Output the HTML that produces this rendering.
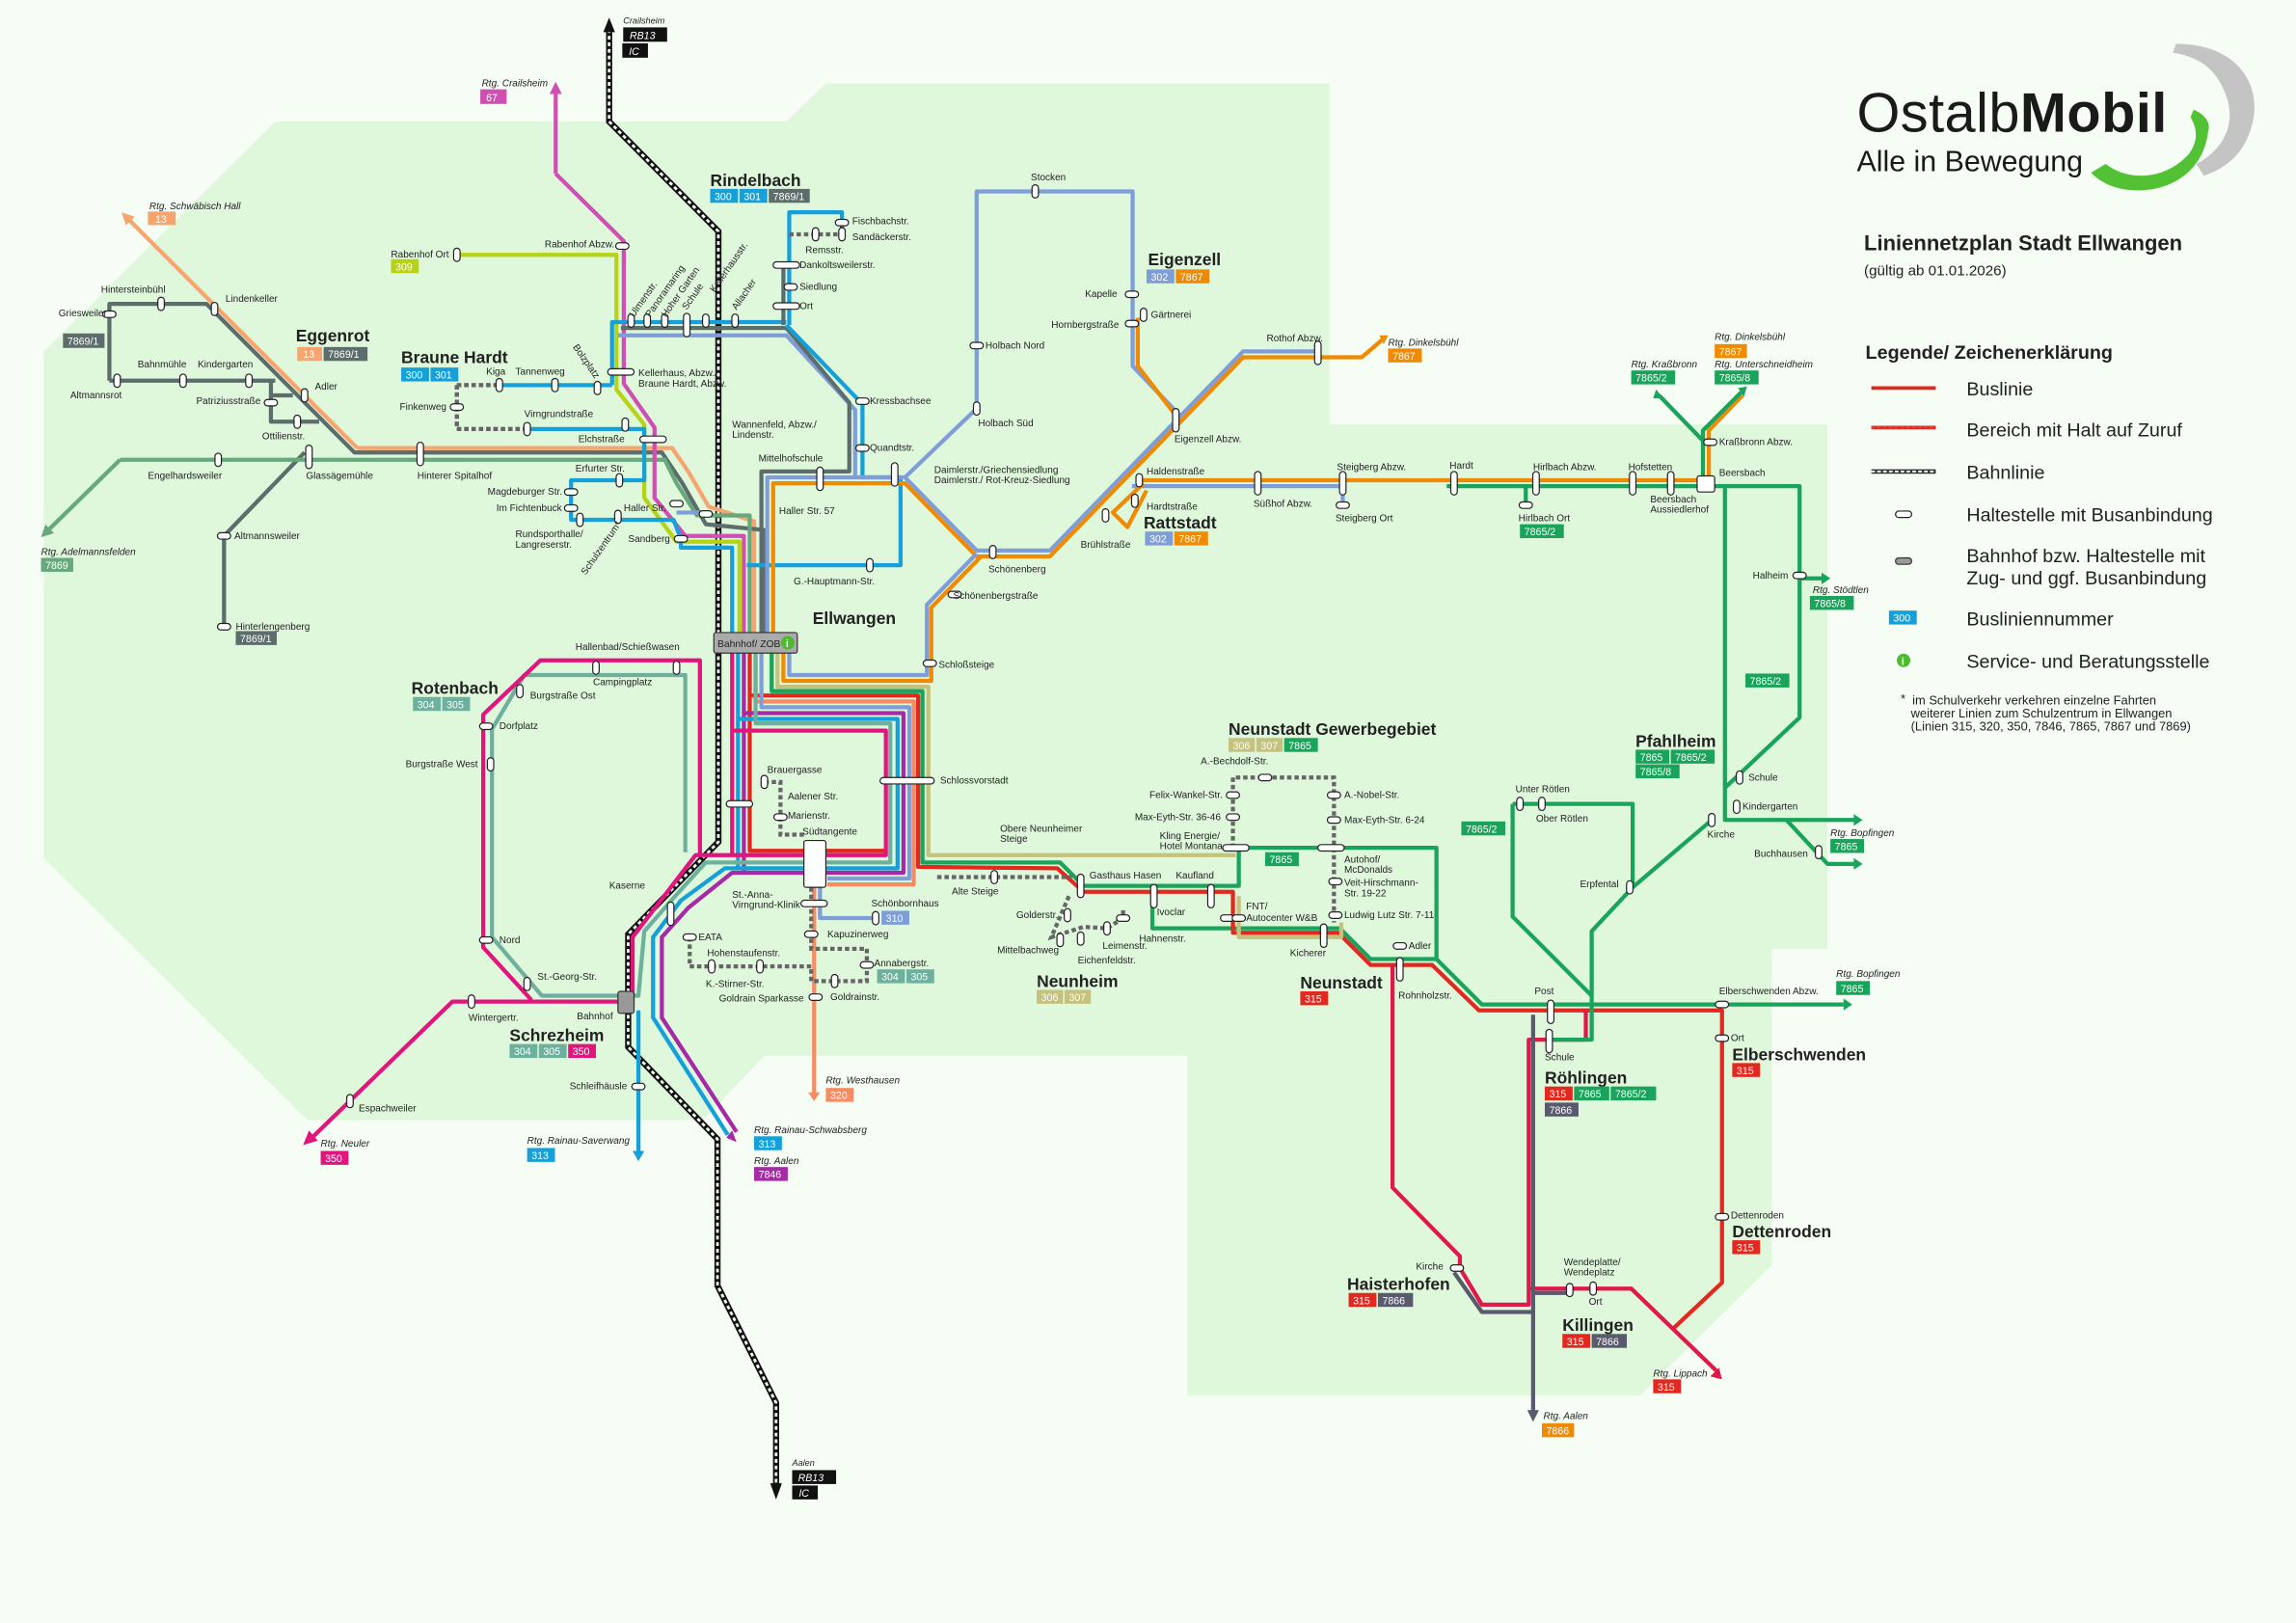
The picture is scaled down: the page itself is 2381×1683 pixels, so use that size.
<!DOCTYPE html>
<html><head><meta charset="utf-8"><style>
html,body{margin:0;padding:0;background:#f5fdf4;}
svg{display:block}
text{font-family:"Liberation Sans",sans-serif;fill:#222}
.s{font-size:6.6px}
.i{font-size:6.6px;font-style:italic}
.t{font-size:11.5px;font-weight:bold}
.b{font-size:7px;fill:#fff}
.l{fill:none;stroke-width:2.8;stroke-linejoin:round;stroke-linecap:butt}
.d{fill:none;stroke:#666;stroke-width:2.8;stroke-dasharray:3 2}
.st{fill:#fff;stroke:#222;stroke-width:0.8}
.lg{font-size:13px}
</style></head><body>
<svg width="2381" height="1683" viewBox="0 0 1568 1108.4" preserveAspectRatio="none" xmlns="http://www.w3.org/2000/svg">
<defs>
<marker id="ar" viewBox="0 0 10 10" refX="5" refY="5" markerWidth="3" markerHeight="3" orient="auto-start-reverse"><path d="M0,0 L10,5 L0,10 z" fill="context-stroke"/></marker>
<rect id="h" x="-4.5" y="-2.2" width="9" height="4.4" rx="2.2" class="st"/>
<rect id="v" x="-2.2" y="-4.5" width="4.4" height="9" rx="2.2" class="st"/>
<rect id="hl" x="-9" y="-2.2" width="18" height="4.4" rx="2.2" class="st"/>
<rect id="vl" x="-2.2" y="-8" width="4.4" height="16" rx="2.2" class="st"/>
</defs>
<rect width="1568" height="1109" fill="#f5fdf4"/>
<path d="M188,83 L537,83 L564,57 L908,57 L908,290 L1248,290 L1248,648 L1210,648 L1210,864 L1120,953 L811,953 L811,721 L522,721 L480,765 L210,765 L30,586 L30,240 Z" fill="#dff8dc"/>

<g fill="none">
<path d="M416,20 L416,83 L490.6,158 L490.6,575 L429,638 L429,715 L490,778 L490,878 L530,958 L530,1015" stroke="#111" stroke-width="4.2"/>
<path d="M416,20 L416,83 L490.6,158 L490.6,575 L429,638 L429,715 L490,778 L490,878 L530,958 L530,1015" stroke="#fff" stroke-width="1.8" stroke-dasharray="2.5 2"/>
<path d="M412,22 L416,12 L420,22 Z" fill="#111"/>
<path d="M526,1013 L530,1024 L534,1013 Z" fill="#111"/>
</g>
<rect x="425.6" y="18.7" width="30" height="9.8" fill="#111"/><text x="430" y="26.6" class="b" style="font-style:italic">RB13</text>
<rect x="425" y="29.6" width="17.5" height="9.8" fill="#111"/><text x="429.5" y="37.5" class="b" style="font-style:italic">IC</text>
<text x="425.6" y="16" class="i" style="font-size:6px">Crailsheim</text>
<rect x="541" y="1004" width="30" height="9.5" fill="#111"/><text x="545" y="1011.6" class="b" style="font-style:italic">RB13</text>
<rect x="541" y="1014.5" width="17.5" height="9.5" fill="#111"/><text x="545.5" y="1022" class="b" style="font-style:italic">IC</text>
<text x="541" y="1001" class="i" style="font-size:6px">Aalen</text>

<path class="l" stroke="#f7a56e" d="M244,306 L459,306 L470,322 L484,346 L515,356 L515,432" />
<path class="l" stroke="#f7a56e" d="M244,306 L86,148" marker-end="url(#ar)"/>
<path class="l" stroke="#5c6d6b" d="M74.7,260 L74.7,207.5 L141,207.5 L242,309 L452,309 L466,330 L482,358 L522,362 L522,432"/>
<path class="l" stroke="#5c6d6b" d="M74.7,260 L188,260 M185,260 L185,288 L218,288 M185,270 L200,270 M208,309 L153,366 L153,428"/>
<path class="l" stroke="#67a97c" d="M82,314 L454,314 L462,330 L476,352 L512,352 L512,432"/>
<path class="l" stroke="#67a97c" d="M82,314 L31,364" marker-end="url(#ar)"/>
<path class="l" stroke="#b8d315" d="M312,174 L421,174 L421,266 L440,290 L440,340 L462,370 L505,370 L505,432"/>
<path class="l" stroke="#cf4fb2" d="M379.5,118.6 L426,164.7 L426,262 L447,292 L447,340 L468,366 L508,366 L508,432"/>
<path class="l" stroke="#cf4fb2" d="M379.5,118.6 L379.5,60" marker-end="url(#ar)"/>
<path class="l" stroke="#16a0d9" d="M418,263 L418,220 L537,220"/>
<path class="l" stroke="#16a0d9" d="M360,293 L440,293 L440,328 L390,328 L390,355 L460,355 L465,368 L465,374 L500,374 L500,432"/>
<path class="l" stroke="#16a0d9" d="M340,263 L418,263"/>
<path class="d" stroke="#16a0d9" d="M312,263 L340,263 M312,263 L312,293 L360,293"/>
<path class="d" d="M312,263 L340,263 M312,263 L312,293 L360,293" stroke-dasharray="2 2" stroke-width="1.5"/>
<path class="l" stroke="#7f9ed8" d="M422,229 L537,229 L584,280 L584,327 M462,350 L482,350"/>
<path class="l" stroke="#5c6d6b" d="M424,224 L537,224 L580,275 L580,322 L520,322 L520,432"/>
<path class="l" stroke="#16a0d9" d="M539,222 L539,145 L575,145 L575,152 M537,222 L589,276 L589,326 L615,326 L615,386 L510,386"/>
<path class="d" d="M539,160 L575,160 L575,150" stroke-width="1.6"/>
<path class="l" stroke="#5c6d6b" d="M535,182 L535,222"/>
<path class="l" stroke="#7f9ed8" d="M524,432 L524,326 L618,326 L667,376 L717,376 L849,240 L900,240 M618,326 L667,279 L667,130.7 L773.5,130.7 L773.5,250 L807,285 M773,332 L917,332 M917,332 L917,345"/>
<path class="l" stroke="#f08a00" d="M528,432 L528,330 L618,330 L667,380 L717,380 L849,244 L930,244 L944,232"/>
<path class="l" stroke="#f08a00" d="M777,217 L777,250 L807,289 M778,328 L1163,328 L1167,328 L1167,294 L1190,270"/>
<path class="l" stroke="#f08a00" d="M781,330 L760,350 L770,360 L783,335"/>
<path class="l" stroke="#7f9ed8" d="M667,378 L633,413 L633,461 L539,461 L539,446"/>
<path class="l" stroke="#f08a00" d="M670,380 L636,415 L636,465 L535,465 L535,446"/>

<path class="l" stroke="#c4c27c" d="M531,446 L531,469 L634,469 L634,584 L844,584"/>
<path class="l" stroke="#1aa35a" d="M527,446 L527,472 L630,472 L630,589 L724,589 L740,605 L846,605 L846,579 L981,579 L981,655 M787,605 L787,634 L915,634 L936,655 L981,655 L1012,686 L1259,686"/>
<path class="l" stroke="#e2291f" d="M512,446 L512,475 L627,475 L627,592 L722,593 L740,609 L842,609 L842,637 L914,637 L936,659 L978,659 L1010,690 L1176,690 L1176,876 L1142,908"/>
<path class="l" stroke="#e2291f" d="M512,475 L512,581 L605,581"/>
<path class="l" stroke="#f68c63" d="M516,446 L516,479 L624,479 L624,604 L565,604 M556,604 L556,748" />
<path class="l" stroke="#7f9ed8" d="M520,446 L520,483 L621,483 L621,600 L565,600 M560,606 L560,627 L598,627"/>
<path class="l" stroke="#a62aa6" d="M508,446 L508,487 L617,487 L617,596 L500,596 L470,620 L452,640 L452,695 L503,773 M508,487 L508,596"/>
<path class="l" stroke="#16a0d9" d="M504,446 L504,491 L613,491 L613,593 L495,593 L465,615 L446,640 L446,695 L497,775 M436,690 L436,790 M504,491 L504,593"/>
<path class="l" stroke="#6db09d" d="M516,446 L516,494 L608,494 L608,589 L482,589 L462,611 L440,636 L436,680 L370,680 L336,640 L336,498 L358,461 L468,461 L468,582"/>
<path class="l" stroke="#e2157f" d="M500,446 L500,499 L605,499 L605,584 L478,584 L475,584 L432,640 L432,684 L309,684 L212,778 M478,584 L478,451 L369,451 L330,488 L330,647 L363,683 M500,499 L500,584"/>
<path d="M207,782 L211,772 L217,779 Z" fill="#e2157f"/>
<path d="M432,786 L436,793 L440,786 Z" fill="#16a0d9"/>
<path d="M496,777 L503,780 L500,772 Z" fill="#a62aa6"/>
<path d="M552,746 L556,752 L560,746 Z" fill="#f68c63"/>
<path class="d" d="M471,640 L471,660 L554,660 L554,670 L592,670 L592,648 L554,648 L554,606" stroke="#6db09d" stroke-width="2.6"/>
<path class="d" d="M522,534 L533,534 L533,570 L549,570" stroke="#7f9ed8"/>
<path class="d" d="M842,579 L842,531 L911,531 L911,579" stroke-width="2.4"/>
<path class="d" d="M911,579 L911,630" stroke="#c4c27c" stroke-width="2.4"/>
<path class="d" d="M640,599 L732,599 M730,612 L718,640 L740,633 L756,634 L767,627 L767,620" stroke-width="2.4"/>
<path class="l" stroke="#c4c27c" d="M846,612 L846,640 L916,640 L916,630"/>
<path class="l" stroke="#e0194d" d="M951,659 L951,811 L997,858 L997,866 L1012,891 L1044,891 L1044,710 L1083,710 L1083,690 M1044,880 L1114,880 L1172,936"/>
<path d="M1168,940 L1176,942 L1174,934 Z" fill="#e0194d"/>
<path class="l" stroke="#5a5a6e" d="M993,869 L1012,896 L1047,896 M1047,693 L1047,965 M1047,883 L1072,883"/>
<path d="M1043,963 L1047,971 L1051,963 Z" fill="#5a5a6e"/>
<path class="l" stroke="#1aa35a" d="M988,332 L1163,332 L1163,294 L1189,268 M1163,301 L1133,270 M1171,332 L1229,332 L1229,395 L1244,395 M1229,395 L1229,490 L1178,538 M1178,332 L1178,560 L1268,560 M1220,560 L1248,590 L1268,590 M1169,560 L1115,606 L1087,636 L1087,710 L1058,710 M1033,549 L1115,549 L1115,606 M1033,549 L1033,626 L1087,680 M1042,332 L1042,345"/>
<path d="M1187,265 L1193,264 L1191,271 Z M1131,266 L1129,272 L1136,272 Z" fill="#1aa35a"/>
<path d="M1244,391 L1250,395 L1244,399 Z M1266,556 L1272,560 L1266,564 Z M1266,586 L1272,590 L1266,594 Z M1259,682 L1265,686 L1259,690 Z" fill="#1aa35a"/>
<path d="M942,229 L948,229 L945,235 Z" fill="#f08a00"/>

<rect x="487.5" y="432" width="57" height="14" rx="1.5" fill="#aaa" stroke="#333" stroke-width="0.8"/>
<text x="490" y="442" class="s" style="font-size:6.8px">Bahnhof/ ZOB</text>
<circle cx="538" cy="439" r="4.6" fill="#4cbb2f"/><text x="536.6" y="442" style="font-size:7px;fill:#fff;font-weight:bold">i</text>
<rect x="549" y="574" width="15" height="32" rx="1.5" class="st"/>
<rect x="422" y="677" width="11" height="15" rx="1.5" fill="#999" stroke="#333" stroke-width="0.8"/>
<rect x="1159" y="325" width="12" height="11" rx="1.5" class="st"/>
<rect x="601" y="531" width="37" height="4.4" rx="2.2" class="st"/>

<g>
<use href="#h" x="74.7" y="214.6"/><use href="#v" x="110" y="207.5"/><use href="#v" x="146.5" y="211"/>
<use href="#v" x="80" y="260"/><use href="#v" x="125" y="260"/><use href="#v" x="170" y="260"/><use href="#h" x="185" y="275"/><use href="#v" x="203" y="288"/><use href="#v" x="208" y="270"/>
<use href="#v" x="149" y="314"/><use href="#vl" x="211" y="312"/><use href="#vl" x="287" y="310"/><use href="#h" x="153" y="366"/><use href="#h" x="153" y="428"/>
<use href="#v" x="312" y="174"/><use href="#h" x="425" y="168"/>
<use href="#v" x="341" y="263"/><use href="#v" x="379" y="263"/><use href="#v" x="408" y="265"/><use href="#h" x="312" y="278"/><use href="#v" x="360" y="293"/><use href="#v" x="427" y="290"/><use href="#hl" x="446" y="300"/>
<use href="#v" x="423" y="328"/><use href="#h" x="390" y="336"/><use href="#h" x="390" y="347"/><use href="#v" x="396" y="355"/><use href="#v" x="422" y="353"/><use href="#h" x="462" y="344"/><use href="#h" x="465" y="368"/>
<use href="#v" x="431" y="219"/><use href="#v" x="442" y="219"/><use href="#v" x="454" y="219"/><use href="#vl" x="469" y="222"/><use href="#v" x="482" y="219"/><use href="#v" x="502" y="219"/>
<use href="#hl" x="424" y="254"/><use href="#h" x="482" y="351"/>
<use href="#h" x="575" y="152"/><use href="#v" x="557" y="160"/><use href="#v" x="575" y="160"/><use href="#hl" x="537" y="181"/><use href="#h" x="540" y="196"/><use href="#hl" x="537" y="209"/>
<use href="#h" x="589" y="274"/><use href="#h" x="589" y="306"/><use href="#vl" x="560" y="327"/><use href="#vl" x="611" y="324"/><use href="#v" x="594" y="386"/>
<use href="#v" x="678" y="377"/><use href="#h" x="652" y="406"/><use href="#h" x="635" y="453"/><use href="#v" x="667" y="279"/><use href="#h" x="667" y="236"/><use href="#v" x="707" y="130.7"/>
<use href="#h" x="773" y="201"/><use href="#h" x="773" y="221"/><use href="#v" x="781" y="215"/><use href="#vl" x="803" y="287"/><use href="#vl" x="900" y="241"/>
<use href="#v" x="778" y="328"/><use href="#v" x="775" y="342"/><use href="#v" x="755" y="352"/><use href="#vl" x="859" y="330"/><use href="#vl" x="917" y="330"/><use href="#h" x="917" y="345"/>
<use href="#vl" x="993" y="330"/><use href="#vl" x="1049" y="330"/><use href="#h" x="1042" y="345"/><use href="#vl" x="1115" y="330"/><use href="#vl" x="1141" y="330"/><use href="#h" x="1168" y="302"/>
<use href="#h" x="1229" y="393"/><use href="#v" x="1188" y="531"/><use href="#v" x="1186" y="551"/><use href="#v" x="1169" y="560"/><use href="#v" x="1242" y="582"/>
<use href="#v" x="1038" y="549"/><use href="#v" x="1053" y="549"/><use href="#v" x="1113" y="606"/>
<use href="#vl" x="1059" y="691"/><use href="#vl" x="1058" y="711"/><use href="#h" x="1176" y="686"/><use href="#h" x="1176" y="709"/><use href="#h" x="1176" y="831"/>
<use href="#h" x="995" y="866"/><use href="#v" x="1072" y="881"/><use href="#v" x="1088" y="880"/>
<use href="#h" x="956" y="646"/><use href="#vl" x="956" y="662"/><use href="#vl" x="904" y="639"/>
<use href="#h" x="864" y="531"/><use href="#h" x="842" y="543"/><use href="#h" x="842" y="558"/><use href="#hl" x="844" y="579"/><use href="#h" x="911" y="543"/><use href="#h" x="911" y="560"/><use href="#hl" x="909" y="579"/><use href="#h" x="912" y="602"/><use href="#h" x="912" y="625"/><use href="#h" x="838" y="627"/><use href="#h" x="846" y="627"/>
<use href="#vl" x="788" y="612"/><use href="#vl" x="827" y="612"/><use href="#vl" x="738" y="605"/><use href="#v" x="679" y="599"/><use href="#v" x="729" y="625"/><use href="#v" x="724" y="642"/><use href="#v" x="738" y="641"/><use href="#v" x="756" y="634"/><use href="#h" x="767" y="627"/>
<use href="#v" x="522" y="534"/><use href="#hl" x="505" y="549"/><use href="#h" x="533" y="558"/>
<use href="#hl" x="556" y="617"/><use href="#v" x="598" y="627"/><use href="#h" x="554" y="638"/><use href="#v" x="486" y="660"/><use href="#v" x="519" y="660"/><use href="#h" x="592" y="659"/><use href="#v" x="570" y="670"/><use href="#h" x="557" y="681"/>
<use href="#vl" x="458" y="624"/><use href="#h" x="471" y="640"/>
<use href="#v" x="355" y="472"/><use href="#h" x="332" y="496"/><use href="#v" x="335" y="522"/><use href="#h" x="332" y="642"/><use href="#v" x="360" y="672"/><use href="#v" x="407" y="456"/><use href="#v" x="462" y="456"/>
<use href="#v" x="322" y="684"/><use href="#v" x="239" y="752"/><use href="#h" x="436" y="742"/>
</g>

<g class="s">
<text x="40" y="216">Griesweiler</text><text x="69" y="200">Hintersteinbühl</text><text x="154" y="206">Lindenkeller</text>
<text x="48" y="272">Altmannsrot</text><text x="94" y="251">Bahnmühle</text><text x="135" y="251">Kindergarten</text><text x="134" y="276">Patriziusstraße</text><text x="179" y="300">Ottilienstr.</text><text x="215" y="266">Adler</text>
<text x="101" y="327">Engelhardsweiler</text><text x="209" y="327">Glassägemühle</text><text x="285" y="327">Hinterer Spitalhof</text><text x="160" y="368">Altmannsweiler</text><text x="161" y="430">Hinterlengenberg</text>
<text x="267" y="176">Rabenhof Ort</text><text x="372" y="169">Rabenhof Abzw.</text>
<text x="332" y="256">Kiga</text><text x="352" y="256">Tannenweg</text><text x="273" y="280">Finkenweg</text><text x="358" y="285">Virngrundstraße</text><text x="395" y="302">Elchstraße</text>
<text x="393" y="322">Erfurter Str.</text><text x="333" y="338">Magdeburger Str.</text><text x="339" y="349">Im Fichtenbuck</text><text x="352" y="367">Rundsporthalle/</text><text x="352" y="374">Langreserstr.</text><text x="426" y="349">Haller Str.</text><text x="429" y="370">Sandberg</text>
<text x="436" y="257">Kellerhaus, Abzw./</text><text x="436" y="264">Braune Hardt, Abzw.</text><text x="500" y="292">Wannenfeld, Abzw./</text><text x="500" y="299">Lindenstr.</text>
<text x="518" y="315">Mittelhofschule</text><text x="532" y="351">Haller Str. 57</text><text x="542" y="399">G.-Hauptmann-Str.</text>
<text x="582" y="153">Fischbachstr.</text><text x="582" y="164">Sandäckerstr.</text><text x="550" y="173">Remsstr.</text><text x="546" y="183">Dankoltsweilerstr.</text><text x="546" y="198">Siedlung</text><text x="546" y="211">Ort</text>
<text x="594" y="276">Kressbachsee</text><text x="594" y="308">Quandtstr.</text><text x="638" y="323">Daimlerstr./Griechensiedlung</text><text x="638" y="330">Daimlerstr./ Rot-Kreuz-Siedlung</text>
<text x="675" y="391">Schönenberg</text><text x="651" y="409">Schönenbergstraße</text><text x="641" y="456">Schloßsteige</text>
<text x="704" y="123">Stocken</text><text x="673" y="238">Holbach Nord</text><text x="668" y="291">Holbach Süd</text>
<text x="741" y="203">Kapelle</text><text x="718" y="224">Hornbergstraße</text><text x="786" y="217">Gärtnerei</text><text x="865" y="233">Rothof Abzw.</text><text x="802" y="302">Eigenzell Abzw.</text>
<text x="783" y="324">Haldenstraße</text><text x="783" y="348">Hardtstraße</text><text x="738" y="374">Brühlstraße</text><text x="856" y="346">Süßhof Abzw.</text><text x="913" y="321">Steigberg Abzw.</text><text x="912" y="356">Steigberg Ort</text>
<text x="990" y="320">Hardt</text><text x="1047" y="321">Hirlbach Abzw.</text><text x="1037" y="356">Hirlbach Ort</text><text x="1112" y="321">Hofstetten</text><text x="1127" y="343">Beersbach</text><text x="1127" y="350">Aussiedlerhof</text><text x="1174" y="325">Beersbach</text><text x="1174" y="304">Kraßbronn Abzw.</text>
<text x="1197" y="395">Halheim</text><text x="1194" y="533">Schule</text><text x="1190" y="553">Kindergarten</text><text x="1166" y="572">Kirche</text><text x="1198" y="585">Buchhausen</text>
<text x="1035" y="541">Unter Rötlen</text><text x="1049" y="561">Ober Rötlen</text><text x="1079" y="606">Erpfental</text>
<text x="1048" y="679">Post</text><text x="1055" y="724">Schule</text><text x="1174" y="679">Elberschwenden Abzw.</text><text x="1182" y="711">Ort</text><text x="1182" y="832">Dettenroden</text>
<text x="967" y="867">Kirche</text><text x="1068" y="864">Wendeplatte/</text><text x="1068" y="871">Wendeplatz</text><text x="1085" y="891">Ort</text>
<text x="962" y="648">Adler</text><text x="955" y="682">Rohnholzstr.</text><text x="881" y="653">Kicherer</text>
<text x="820" y="522">A.-Bechdolf-Str.</text><text x="785" y="545">Felix-Wankel-Str.</text><text x="775" y="560">Max-Eyth-Str. 36-46</text><text x="792" y="573">Kling Energie/</text><text x="792" y="580">Hotel Montana</text>
<text x="918" y="545">A.-Nobel-Str.</text><text x="918" y="562">Max-Eyth-Str. 6-24</text><text x="918" y="589">Autohof/</text><text x="918" y="596">McDonalds</text><text x="918" y="605">Veit-Hirschmann-</text><text x="918" y="612">Str. 19-22</text><text x="918" y="627">Ludwig Lutz Str. 7-11</text>
<text x="851" y="621">FNT/</text><text x="851" y="629">Autocenter W&amp;B</text><text x="790" y="625">Ivoclar</text><text x="803" y="600">Kaufland</text><text x="744" y="600">Gasthaus Hasen</text>
<text x="683" y="568">Obere Neunheimer</text><text x="683" y="575">Steige</text><text x="650" y="611">Alte Steige</text><text x="694" y="627">Golderstr.</text><text x="681" y="651">Mittelbachweg</text><text x="753" y="648">Leimenstr.</text><text x="736" y="658">Eichenfeldstr.</text><text x="778" y="643">Hahnenstr.</text>
<text x="524" y="528">Brauergasse</text><text x="538" y="546">Aalener Str.</text><text x="538" y="559">Marienstr.</text><text x="548" y="570">Südtangente</text><text x="642" y="535">Schlossvorstadt</text>
<text x="500" y="613">St.-Anna-</text><text x="500" y="620">Virngrund-Klinik</text><text x="595" y="619">Schönbornhaus</text><text x="565" y="640">Kapuzinerweg</text><text x="483" y="653">Hohenstaufenstr.</text><text x="482" y="674">K.-Stirner-Str.</text><text x="491" y="684">Goldrain Sparkasse</text><text x="567" y="683">Goldrainstr.</text><text x="597" y="660">Annabergstr.</text>
<text x="416" y="607">Kaserne</text><text x="477" y="642">EATA</text><text x="393" y="444">Hallenbad/Schießwasen</text><text x="405" y="468">Campingplatz</text><text x="362" y="477">Burgstraße Ost</text><text x="341" y="498">Dorfplatz</text><text x="277" y="524">Burgstraße West</text><text x="341" y="644">Nord</text><text x="367" y="669">St.-Georg-Str.</text>
<text x="320" y="697">Wintergertr.</text><text x="394" y="696">Bahnhof</text><text x="389" y="744">Schleifhäusle</text><text x="245" y="759">Espachweiler</text>
</g>
<g class="s" transform="rotate(-55 433 217)"><text x="433" y="217">Ulmenstr.</text></g>
<g class="s" transform="rotate(-55 444 217)"><text x="444" y="217">Panoramaring</text></g>
<g class="s" transform="rotate(-55 455 217)"><text x="455" y="217">Hoher Garten</text></g>
<g class="s" transform="rotate(-55 469 212)"><text x="469" y="212">Schule</text></g>
<g class="s" transform="rotate(-55 503 212)"><text x="503" y="212">Allacher</text></g>
<g class="s" transform="rotate(-55 488 200)"><text x="488" y="200">Kellerhausstr.</text></g>
<g class="s" transform="rotate(55 391 237)"><text x="391" y="237">Bolzplatz</text></g>
<g class="s" transform="rotate(-55 400 393)"><text x="400" y="393">Schulzentrum*</text></g>

<g class="i">
<text x="102" y="143">Rtg. Schwäbisch Hall</text><text x="329" y="59">Rtg. Crailsheim</text><text x="28" y="379">Rtg. Adelmannsfelden</text>
<text x="948" y="236">Rtg. Dinkelsbühl</text><text x="1114" y="251">Rtg. Kraßbronn</text><text x="1171" y="232">Rtg. Dinkelsbühl</text><text x="1171" y="251">Rtg. Unterschneidheim</text>
<text x="1238" y="405">Rtg. Stödtlen</text><text x="1250" y="571">Rtg. Bopfingen</text><text x="1254" y="667">Rtg. Bopfingen</text>
<text x="1129" y="940">Rtg. Lippach</text><text x="1054" y="969">Rtg. Aalen</text><text x="564" y="740">Rtg. Westhausen</text>
<text x="515" y="774">Rtg. Rainau-Schwabsberg</text><text x="515" y="795">Rtg. Aalen</text><text x="360" y="781">Rtg. Rainau-Saverwang</text><text x="219" y="783">Rtg. Neuler</text>
</g>

<g class="t">
<text x="202" y="233">Eggenrot</text><text x="274" y="248">Braune Hardt</text><text x="485" y="127">Rindelbach</text><text x="784" y="181">Eigenzell</text><text x="781" y="361">Rattstadt</text>
<text x="555" y="426">Ellwangen</text><text x="281" y="474">Rotenbach</text><text x="348" y="711">Schrezheim</text><text x="708" y="674">Neunheim</text><text x="839" y="502">Neunstadt Gewerbegebiet</text>
<text x="888" y="675">Neunstadt</text><text x="1117" y="510">Pfahlheim</text><text x="1055" y="740">Röhlingen</text><text x="1183" y="724">Elberschwenden</text><text x="1183" y="845">Dettenroden</text>
<text x="920" y="881">Haisterhofen</text><text x="1067" y="909">Killingen</text>
</g>

<g>
<rect x="43" y="227.7" width="28.4" height="9.9" fill="#5c6d6b"/><text x="46" y="235.5" class="b">7869/1</text>
<rect x="101" y="144.5" width="19" height="9.2" fill="#f7a56e"/><text x="106" y="152" class="b">13</text>
<rect x="203" y="237" width="17" height="9.5" fill="#f7a56e"/><text x="207" y="244.5" class="b">13</text>
<rect x="221" y="237" width="30" height="9.5" fill="#5c6d6b"/><text x="224" y="244.5" class="b">7869/1</text>
<rect x="328" y="61" width="18" height="10" fill="#cf4fb2"/><text x="332" y="69" class="b">67</text>
<rect x="267" y="177" width="19" height="9.5" fill="#b8d315"/><text x="270" y="184.6" class="b">309</text>
<rect x="274" y="251" width="19" height="9.5" fill="#16a0d9"/><text x="277" y="258.6" class="b">300</text>
<rect x="294" y="251" width="19" height="9.5" fill="#16a0d9"/><text x="297" y="258.6" class="b">301</text>
<rect x="485" y="129" width="19" height="9.5" fill="#16a0d9"/><text x="488" y="136.6" class="b">300</text>
<rect x="505" y="129" width="19" height="9.5" fill="#16a0d9"/><text x="508" y="136.6" class="b">301</text>
<rect x="525" y="129" width="28" height="9.5" fill="#5c6d6b"/><text x="528" y="136.6" class="b">7869/1</text>
<rect x="783" y="184" width="19" height="9.5" fill="#7f9ed8"/><text x="786" y="191.6" class="b">302</text>
<rect x="803" y="184" width="23" height="9.5" fill="#f08a00"/><text x="806" y="191.6" class="b">7867</text>
<rect x="948" y="238" width="23" height="9.5" fill="#f08a00"/><text x="951" y="245.6" class="b">7867</text>
<rect x="782" y="363" width="19" height="9.5" fill="#7f9ed8"/><text x="785" y="370.6" class="b">302</text>
<rect x="802" y="363" width="23" height="9.5" fill="#f08a00"/><text x="805" y="370.6" class="b">7867</text>
<rect x="1114" y="253" width="30" height="9.5" fill="#1aa35a"/><text x="1117" y="260.6" class="b">7865/2</text>
<rect x="1171" y="235" width="22" height="9.5" fill="#f08a00"/><text x="1174" y="242.6" class="b">7867</text>
<rect x="1171" y="253" width="30" height="9.5" fill="#1aa35a"/><text x="1174" y="260.6" class="b">7865/8</text>
<rect x="1038" y="358" width="30" height="9.5" fill="#1aa35a"/><text x="1041" y="365.6" class="b">7865/2</text>
<rect x="1236" y="407" width="30" height="9.5" fill="#1aa35a"/><text x="1239" y="414.6" class="b">7865/8</text>
<rect x="1192" y="460" width="30" height="9.5" fill="#1aa35a"/><text x="1195" y="467.6" class="b">7865/2</text>
<rect x="1117" y="512" width="23" height="9.5" fill="#1aa35a"/><text x="1120" y="519.6" class="b">7865</text>
<rect x="1141" y="512" width="30" height="9.5" fill="#1aa35a"/><text x="1144" y="519.6" class="b">7865/2</text>
<rect x="1117" y="522" width="30" height="9.5" fill="#1aa35a"/><text x="1120" y="529.6" class="b">7865/8</text>
<rect x="998" y="561" width="30" height="9.5" fill="#1aa35a"/><text x="1001" y="568.6" class="b">7865/2</text>
<rect x="1250" y="573" width="23" height="9.5" fill="#1aa35a"/><text x="1253" y="580.6" class="b">7865</text>
<rect x="1254" y="670" width="23" height="9.5" fill="#1aa35a"/><text x="1257" y="677.6" class="b">7865</text>
<rect x="864" y="582" width="23" height="9.5" fill="#1aa35a"/><text x="867" y="589.6" class="b">7865</text>
<rect x="839" y="504" width="18" height="9.5" fill="#c4c27c"/><text x="842" y="511.6" class="b">306</text>
<rect x="858" y="504" width="18" height="9.5" fill="#c4c27c"/><text x="861" y="511.6" class="b">307</text>
<rect x="877" y="504" width="23" height="9.5" fill="#1aa35a"/><text x="880" y="511.6" class="b">7865</text>
<rect x="708" y="676" width="18" height="9.5" fill="#c4c27c"/><text x="711" y="683.6" class="b">306</text>
<rect x="727" y="676" width="18" height="9.5" fill="#c4c27c"/><text x="730" y="683.6" class="b">307</text>
<rect x="888" y="677" width="19" height="9.5" fill="#e2291f"/><text x="891" y="684.6" class="b">315</text>
<rect x="1055" y="742" width="19" height="9.5" fill="#e2291f"/><text x="1058" y="749.6" class="b">315</text>
<rect x="1075" y="742" width="24" height="9.5" fill="#1aa35a"/><text x="1078" y="749.6" class="b">7865</text>
<rect x="1100" y="742" width="31" height="9.5" fill="#1aa35a"/><text x="1103" y="749.6" class="b">7865/2</text>
<rect x="1055" y="753" width="23" height="9.5" fill="#5a5a6e"/><text x="1058" y="760.6" class="b">7866</text>
<rect x="1183" y="726" width="19" height="9.5" fill="#e2291f"/><text x="1186" y="733.6" class="b">315</text>
<rect x="1183" y="847" width="19" height="9.5" fill="#e2291f"/><text x="1186" y="854.6" class="b">315</text>
<rect x="921" y="883" width="19" height="9.5" fill="#e2291f"/><text x="924" y="890.6" class="b">315</text>
<rect x="941" y="883" width="24" height="9.5" fill="#5a5a6e"/><text x="944" y="890.6" class="b">7866</text>
<rect x="1067" y="911" width="19" height="9.5" fill="#e2291f"/><text x="1070" y="918.6" class="b">315</text>
<rect x="1087" y="911" width="24" height="9.5" fill="#5a5a6e"/><text x="1090" y="918.6" class="b">7866</text>
<rect x="1129" y="942" width="19" height="9.5" fill="#e2291f"/><text x="1132" y="949.6" class="b">315</text>
<rect x="1053" y="972" width="22" height="9.5" fill="#f08a00"/><text x="1056" y="979.6" class="b">7866</text>
<rect x="564" y="743" width="19" height="9.5" fill="#f68c63"/><text x="567" y="750.6" class="b">320</text>
<rect x="602" y="622" width="19" height="9.5" fill="#7f9ed8"/><text x="605" y="629.6" class="b">310</text>
<rect x="599" y="662" width="19" height="9.5" fill="#6db09d"/><text x="602" y="669.6" class="b">304</text>
<rect x="619" y="662" width="19" height="9.5" fill="#6db09d"/><text x="622" y="669.6" class="b">305</text>
<rect x="282" y="476" width="19" height="9.5" fill="#6db09d"/><text x="285" y="483.6" class="b">304</text>
<rect x="302" y="476" width="19" height="9.5" fill="#6db09d"/><text x="305" y="483.6" class="b">305</text>
<rect x="348" y="713" width="19" height="9.5" fill="#6db09d"/><text x="351" y="720.6" class="b">304</text>
<rect x="368" y="713" width="19" height="9.5" fill="#6db09d"/><text x="371" y="720.6" class="b">305</text>
<rect x="388" y="713" width="19" height="9.5" fill="#e2157f"/><text x="391" y="720.6" class="b">350</text>
<rect x="515" y="776" width="19" height="9.5" fill="#16a0d9"/><text x="518" y="783.6" class="b">313</text>
<rect x="515" y="797" width="23" height="9.5" fill="#a62aa6"/><text x="518" y="804.6" class="b">7846</text>
<rect x="360" y="784" width="19" height="9.5" fill="#16a0d9"/><text x="363" y="791.6" class="b">313</text>
<rect x="219" y="786" width="19" height="9.5" fill="#e2157f"/><text x="222" y="793.6" class="b">350</text>
<rect x="28" y="381" width="22" height="9.5" fill="#67a97c"/><text x="31" y="388.6" class="b">7869</text>
<rect x="161" y="431" width="28" height="9.5" fill="#5c6d6b"/><text x="164" y="438.6" class="b">7869/1</text>
</g>

<path d="M1486,30 C1530,30 1545,60 1538,85 C1533,105 1520,115 1505,120 L1500,112 C1522,100 1528,80 1518,60 C1510,42 1495,38 1484,36 Z" fill="#c4c4c4"/>
<path d="M1508,90 C1505,115 1485,130 1460,130 C1445,130 1435,125 1428,118 L1438,112 C1455,125 1480,122 1495,105 C1502,95 1500,87 1496,80 L1498,75 C1506,78 1510,84 1508,90 Z" fill="#52c234"/>
<text x="1268" y="90" style="font-size:38px;fill:#1a1a1a;letter-spacing:0.3px">Ostalb<tspan style="font-weight:bold">Mobil</tspan></text>
<text x="1268" y="117" style="font-size:20px;fill:#1a1a1a">Alle in Bewegung</text>
<text x="1273" y="171" style="font-size:14.5px;font-weight:bold">Liniennetzplan Stadt Ellwangen</text>
<text x="1273" y="188" style="font-size:10px">(gültig ab 01.01.2026)</text>

<text x="1274" y="245" style="font-size:13px;font-weight:bold">Legende/ Zeichenerklärung</text>
<line x1="1278" y1="265" x2="1322" y2="265" stroke="#e2291f" stroke-width="2.5"/>
<line x1="1278" y1="292" x2="1322" y2="292" stroke="#e2291f" stroke-width="2.5"/>
<line x1="1278" y1="292" x2="1322" y2="292" stroke="#777" stroke-width="1" stroke-dasharray="2 2"/>
<line x1="1278" y1="322" x2="1322" y2="322" stroke="#333" stroke-width="3"/>
<line x1="1278" y1="322" x2="1322" y2="322" stroke="#fff" stroke-width="1.2" stroke-dasharray="2.5 1.5"/>
<rect x="1294.5" y="349" width="11" height="4.4" rx="2.2" class="st"/>
<rect x="1294.5" y="381" width="11" height="4.4" rx="2.2" fill="#999" stroke="#333" stroke-width="0.8"/>
<rect x="1290" y="417" width="19" height="9.5" fill="#16a0d9"/><text x="1293" y="424.6" class="b">300</text>
<circle cx="1300" cy="451" r="4.6" fill="#4cbb2f"/><text x="1298.6" y="454" style="font-size:7px;fill:#fff;font-weight:bold">i</text>
<text x="1343" y="270" class="lg">Buslinie</text>
<text x="1343" y="298" class="lg">Bereich mit Halt auf Zuruf</text>
<text x="1343" y="327" class="lg">Bahnlinie</text>
<text x="1343" y="356" class="lg">Haltestelle mit Busanbindung</text>
<text x="1343" y="384" class="lg">Bahnhof bzw. Haltestelle mit</text>
<text x="1343" y="399" class="lg">Zug- und ggf. Busanbindung</text>
<text x="1343" y="427" class="lg">Busliniennummer</text>
<text x="1343" y="456" class="lg">Service- und Beratungsstelle</text>
<text x="1298" y="480" style="font-size:8.5px">*</text>
<text x="1306" y="481" style="font-size:8.5px">im Schulverkehr verkehren einzelne Fahrten</text>
<text x="1305" y="490" style="font-size:8.5px">weiterer Linien zum Schulzentrum in Ellwangen</text>
<text x="1305" y="499" style="font-size:8.5px">(Linien 315, 320, 350, 7846, 7865, 7867 und 7869)</text>
</svg>
</body></html>
